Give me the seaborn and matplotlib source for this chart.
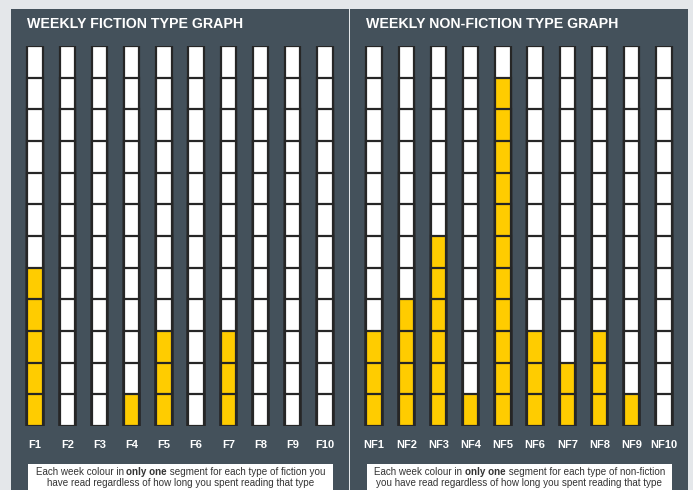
import pandas as pd
import matplotlib.pyplot as plt
import seaborn as sns

# weekly segment counts (12 segments per column)
fiction_types = ["F1", "F2", "F3", "F4", "F5", "F6", "F7", "F8", "F9", "F10"]
fiction_counts = [5, 0, 0, 1, 3, 0, 3, 0, 0, 0]

nonfiction_types = ["NF1", "NF2", "NF3", "NF4", "NF5", "NF6", "NF7", "NF8", "NF9", "NF10"]
nonfiction_counts = [3, 4, 6, 1, 11, 3, 2, 3, 1, 0]

n_segments = 12

PAGE = "#e4e7ea"
PANEL = "#44515b"
YELLOW = "#ffcc00"
EDGE = "#262626"

sns.set_theme(style="white")
plt.rcParams["font.family"] = ["Liberation Sans", "DejaVu Sans"]

W, H = 693, 490
fig = plt.figure(figsize=(W / 100, H / 100), dpi=100)
fig.patch.set_facecolor(PAGE)


def px(x0, y0, w, h):
    # pixel box (top-left origin) -> figure fraction
    return [x0 / W, 1 - (y0 + h) / H, w / W, h / H]


def draw_panel(panel_box, bar_box, title, types, counts, note_box, note_parts):
    bg = fig.add_axes(px(*panel_box))
    bg.set_facecolor(PANEL)
    bg.set_xticks([])
    bg.set_yticks([])
    for s in bg.spines.values():
        s.set_visible(False)

    ax = fig.add_axes(px(*bar_box))
    ax.patch.set_alpha(0)
    # draw from the tallest stack down so each segment's top edge shows
    for k in range(n_segments, 0, -1):
        df = pd.DataFrame({"type": types, "h": [k] * len(types)})
        pal = [YELLOW if c >= k else "white" for c in counts]
        sns.barplot(data=df, x="type", y="h", hue="type", palette=pal,
                    legend=False, width=0.48, edgecolor=EDGE, linewidth=1.6,
                    saturation=1, ax=ax)
    ax.set_xlim(-0.5, len(types) - 0.5)
    ax.set_ylim(0, n_segments)
    ax.set_xlabel("")
    ax.set_ylabel("")
    ax.set_yticks([])
    ax.tick_params(axis="x", length=0, pad=10, colors="white", labelsize=8)
    for t in ax.get_xticklabels():
        t.set_fontweight("bold")
    for s in ax.spines.values():
        s.set_visible(False)

    fig.text((bar_box[0] + 8) / W, 1 - 24 / H, title, color="white",
             fontsize=10.2, fontweight="bold", va="center", ha="left")

    nb = fig.add_axes(px(*note_box))
    nb.set_facecolor("white")
    nb.set_xticks([])
    nb.set_yticks([])
    for s in nb.spines.values():
        s.set_visible(False)

    # first line with a bold part, centred by measuring the pieces
    fig.canvas.draw()
    r = fig.canvas.get_renderer()
    cx = (note_box[0] + note_box[2] / 2) / W
    line1, line2 = note_parts
    pieces = [fig.text(0, 0, p, fontsize=7.1, color="#333333",
                       fontweight="bold" if b else "normal") for p, b in line1]
    widths = [t.get_window_extent(r).width / W for t in pieces]
    x = cx - sum(widths) / 2
    for t, w in zip(pieces, widths):
        t.set_position((x, 1 - 472 / H))
        t.set_va("center")
        x += w
    fig.text(cx, 1 - 483 / H, line2, fontsize=7.1, color="#333333",
             ha="center", va="center")


draw_panel((11, 9, 338, 490), (19, 46, 322, 380), "WEEKLY FICTION TYPE GRAPH",
           fiction_types, fiction_counts, (28, 464, 305, 30),
           ([("Each week colour in ", False), ("only one", True),
             (" segment for each type of fiction you", False)],
            "have read regardless of how long you spent reading that type"))

draw_panel((350, 9, 338, 490), (358, 46, 322, 380), "WEEKLY NON-FICTION TYPE GRAPH",
           nonfiction_types, nonfiction_counts, (367, 464, 305, 30),
           ([("Each week colour in ", False), ("only one", True),
             (" segment for each type of non-fiction", False)],
            "you have read regardless of how long you spent reading that type"))

fig.savefig("out.png", dpi=100, facecolor=PAGE)
